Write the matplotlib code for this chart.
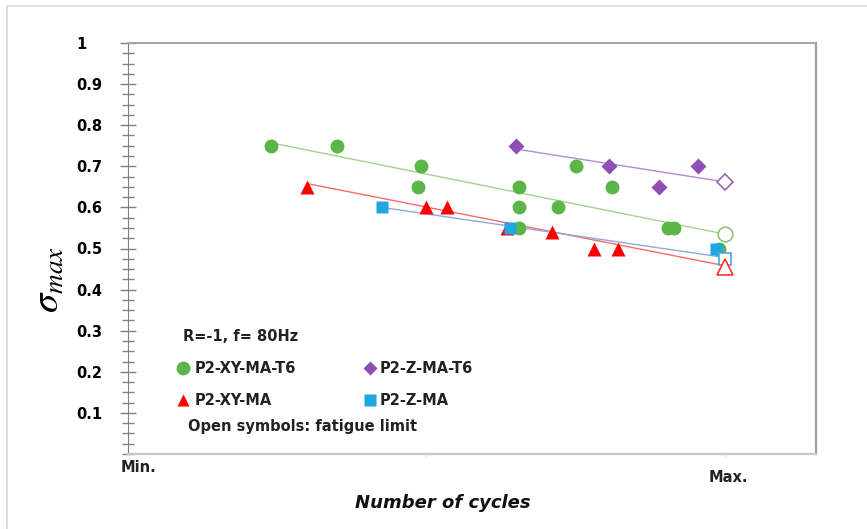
import matplotlib
matplotlib.use("Agg")
import matplotlib.pyplot as plt
import matplotlib.transforms as mtransforms
from matplotlib.patches import Rectangle

plt.rcParams['font.family'] = ['DejaVu Sans']
plt.rcParams['mathtext.fontset'] = 'stix'

# P2-XY-MA-T6 (green circles)
green_x = [0.48, 0.70, 0.98, 0.97, 1.31, 1.31, 1.44, 1.31, 1.50, 1.62, 1.81, 1.83, 1.98]
green_y = [0.75, 0.75, 0.70, 0.65, 0.65, 0.60, 0.60, 0.55, 0.70, 0.65, 0.55, 0.55, 0.50]
green_open = (2.00, 0.535)
green_fit_x = [0.48, 2.00]
green_fit_y = [0.757, 0.535]

# P2-Z-MA-T6 (purple diamonds)
purple_x = [1.30, 1.61, 1.91, 1.78]
purple_y = [0.75, 0.70, 0.70, 0.65]
purple_open = (2.00, 0.662)
purple_fit_x = [1.30, 2.00]
purple_fit_y = [0.742, 0.662]

# P2-XY-MA (red triangles)
red_x = [0.60, 1.00, 1.07, 1.27, 1.42, 1.56, 1.64]
red_y = [0.65, 0.60, 0.60, 0.55, 0.54, 0.50, 0.50]
red_open = (2.00, 0.455)
red_fit_x = [0.60, 2.00]
red_fit_y = [0.658, 0.458]

# P2-Z-MA (blue squares)
blue_x = [0.85, 1.28, 1.97]
blue_y = [0.60, 0.55, 0.50]
blue_open = (2.00, 0.475)
blue_fit_x = [0.85, 2.00]
blue_fit_y = [0.60, 0.478]

y_ticks = [0.1, 0.2, 0.3, 0.4, 0.5, 0.6, 0.7, 0.8, 0.9, 1.0]
y_labels = ['0.1', '0.2', '0.3', '0.4', '0.5', '0.6', '0.7', '0.8', '0.9', '1']

fig = plt.figure(figsize=(8.67, 5.29), dpi=100)
# light frame around the chart area
fig.patches.append(Rectangle((7 / 867, -0.1), 1.2, 1 - 6 / 529 + 0.1,
                             transform=fig.transFigure, fill=False,
                             edgecolor='#d9d9d9', linewidth=1.2))
ax = fig.add_axes([128 / 867, 1 - 454 / 529, 688 / 867, 411 / 529])

# trend lines
ax.plot(green_fit_x, green_fit_y, color='#a9d18e', lw=1.0)
ax.plot(purple_fit_x, purple_fit_y, color='#b38bd1', lw=1.0)
ax.plot(red_fit_x, red_fit_y, color='#ff6b6b', lw=1.0)
ax.plot(blue_fit_x, blue_fit_y, color='#8ea9db', lw=1.0)

# filled symbols
g, = ax.plot(green_x, green_y, 'o', color='#5bb548', ms=10, mec='none')
p, = ax.plot(purple_x, purple_y, 'D', color='#8e4fb4', ms=8, mec='none')
r, = ax.plot(red_x, red_y, '^', color='#ff0000', ms=10, mec='none')
b, = ax.plot(blue_x, blue_y, 's', color='#1fa7e0', ms=8.5, mec='none')

# open symbols: fatigue limit
ax.plot(*green_open, 'o', mfc='white', mec='#8cc47a', ms=10.5, mew=1.2)
ax.plot(*purple_open, 'D', mfc='white', mec='#9a62c0', ms=8, mew=1.2)
ax.plot(*blue_open, 's', mfc='white', mec='#4aa8dc', ms=9, mew=1.2)
ax.plot(*red_open, '^', mfc='white', mec='#ff3030', ms=11, mew=1.2)

ax.set_xlim(0, 2.305)
ax.set_ylim(0, 1)

ax.set_yticks(y_ticks)
ax.set_yticklabels(y_labels, fontsize=10.5, fontweight='bold')
ax.set_yticks([i * 0.025 for i in range(41)], minor=True)
ax.tick_params(axis='y', which='major', direction='inout', length=12,
               color='#808080', width=1, pad=31)
ax.tick_params(axis='y', which='minor', direction='inout', length=8,
               color='#808080', width=1)
for lab in ax.get_yticklabels():
    lab.set_horizontalalignment('left')

ax.set_xticks([1, 2])
ax.set_xticklabels(['', ''])
ax.tick_params(axis='x', direction='out', length=2, color='#e0e0e0')

ax.spines['left'].set_color('#808080')
ax.spines['top'].set_color('#a6a6a6')
ax.spines['right'].set_color('#a0a0a0')
ax.spines['bottom'].set_color('#c8c8c8')
ax.spines['right'].set_linewidth(1.6)
ax.spines['bottom'].set_linewidth(1.6)
ax.spines['top'].set_linewidth(1.4)

# x tick labels placed like the original
tr = mtransforms.blended_transform_factory(ax.transData, ax.transAxes)
ax.text(0.034, -0.034, 'Min.', transform=tr, ha='center', va='center',
        fontsize=10.5, fontweight='bold', color='#222222')
ax.text(2.01, -0.058, 'Max.', transform=tr, ha='center', va='center',
        fontsize=10.5, fontweight='bold', color='#222222')

# in-plot legend
ax.text(0.080, 0.287, 'R=-1, f= 80Hz', transform=ax.transAxes, ha='left',
        va='center', fontsize=10.5, fontweight='bold', color='#222222')
leg = [(0.080, 0.209, 'o', '#5bb548', 10, 'P2-XY-MA-T6', 0.097),
       (0.352, 0.209, 'D', '#8e4fb4', 7, 'P2-Z-MA-T6', 0.366),
       (0.080, 0.131, '^', '#ff0000', 9, 'P2-XY-MA', 0.097),
       (0.352, 0.131, 's', '#1fa7e0', 8, 'P2-Z-MA', 0.366)]
for mx, my, mk, col, ms, lab, tx in leg:
    ax.plot([mx], [my], mk, color=col, ms=ms, mec='none',
            transform=ax.transAxes, clip_on=False)
    ax.text(tx, my, lab, transform=ax.transAxes, ha='left', va='center',
            fontsize=10.5, fontweight='bold', color='#222222')
ax.text(0.087, 0.066, 'Open symbols: fatigue limit', transform=ax.transAxes,
        ha='left', va='center', fontsize=10.5, fontweight='bold', color='#222222')

fig.text(48 / 867, 1 - 280 / 529, r'$\sigma_{max}$', rotation=90,
         ha='center', va='center', fontsize=28)
fig.text(443 / 867, 1 - 503 / 529, 'Number of cycles', ha='center',
         va='center', fontsize=13, fontweight='bold', fontstyle='italic',
         color='#111111')

fig.savefig('out.png', dpi=100)
